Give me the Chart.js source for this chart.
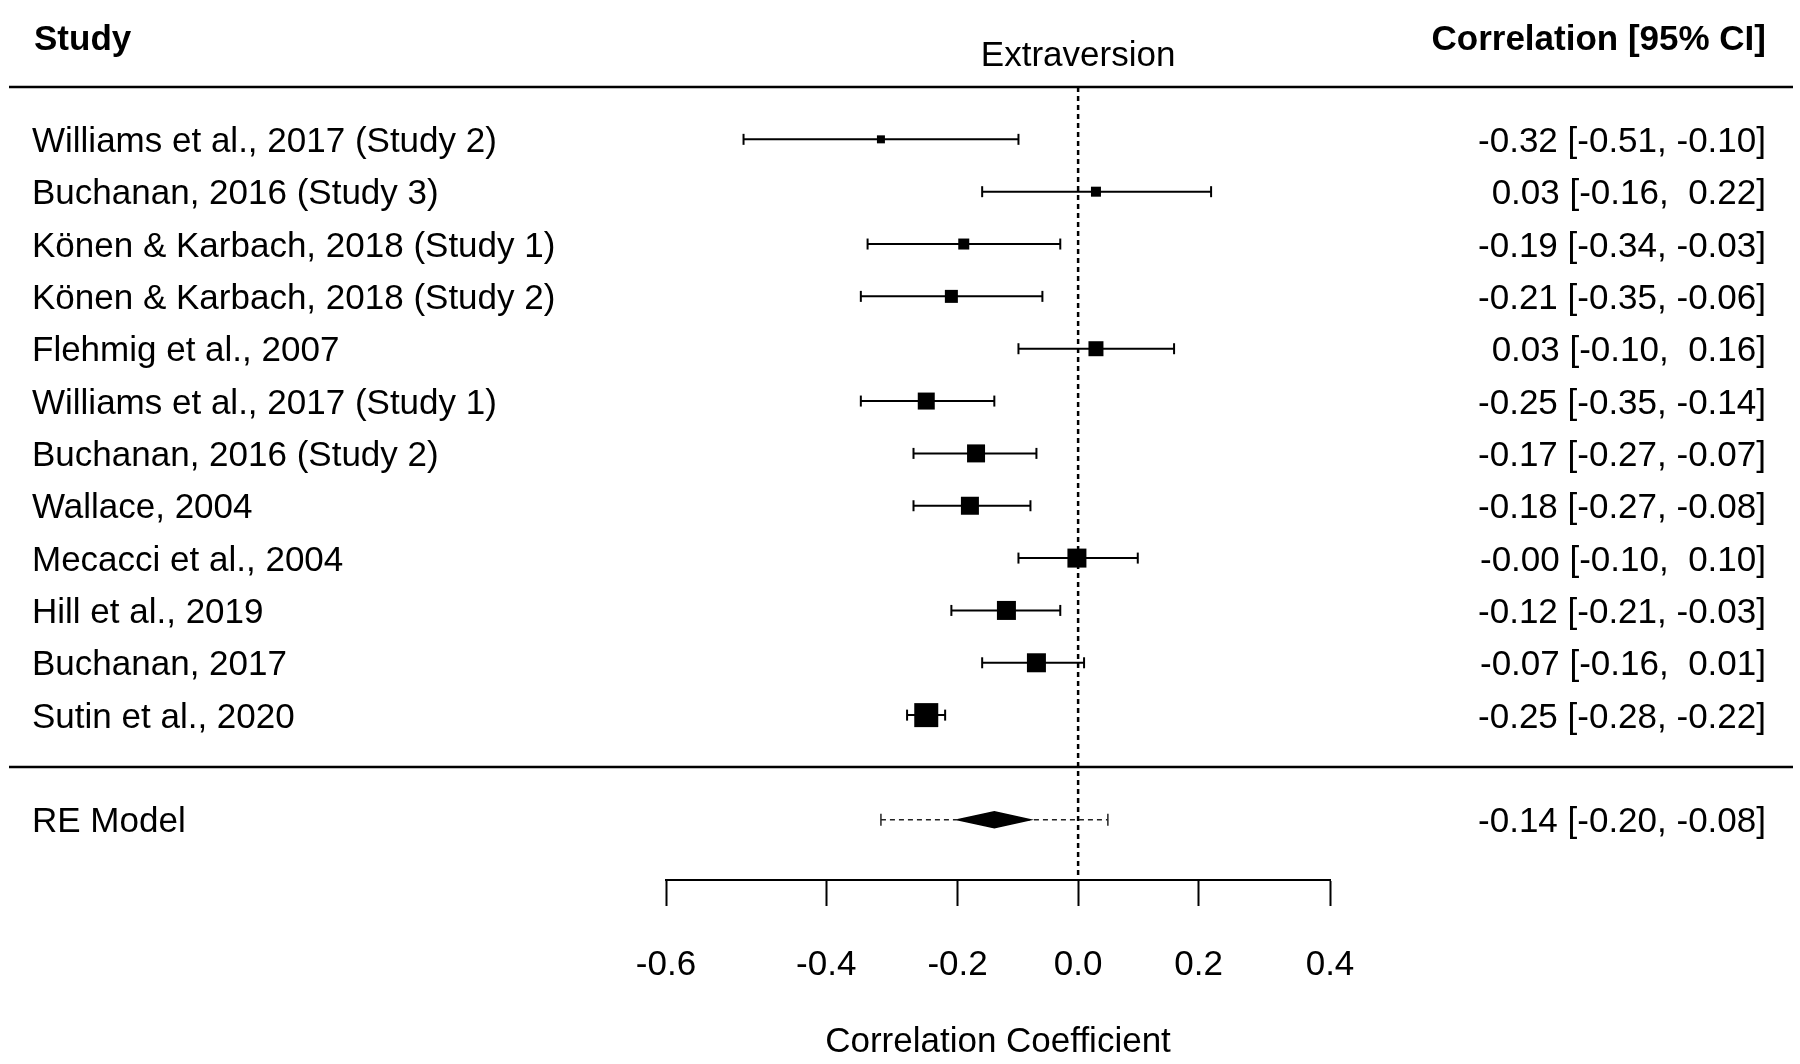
<!DOCTYPE html>
<html>
<head>
<meta charset="utf-8">
<script src="https://cdn.jsdelivr.net/npm/chart.js@4.4.1/dist/chart.umd.min.js"></script>
<style>
  html, body { margin: 0; padding: 0; background: #fff; }
  canvas { display: block; }
</style>
</head>
<body>
<canvas id="forest" width="1800" height="1064"></canvas>
<script>
const studies = [
  "Williams et al., 2017 (Study 2)",
  "Buchanan, 2016 (Study 3)",
  "Könen & Karbach, 2018 (Study 1)",
  "Könen & Karbach, 2018 (Study 2)",
  "Flehmig et al., 2007",
  "Williams et al., 2017 (Study 1)",
  "Buchanan, 2016 (Study 2)",
  "Wallace, 2004",
  "Mecacci et al., 2004",
  "Hill et al., 2019",
  "Buchanan, 2017",
  "Sutin et al., 2020"
];
const estimates = [-0.32, 0.03, -0.19, -0.21, 0.03, -0.25, -0.17, -0.18, -0.002, -0.12, -0.07, -0.25];
const ciLower   = [-0.51, -0.16, -0.34, -0.35, -0.10, -0.35, -0.27, -0.27, -0.10, -0.21, -0.16, -0.28];
const ciUpper   = [-0.10, 0.22, -0.03, -0.06, 0.16, -0.14, -0.07, -0.08, 0.10, -0.03, 0.01, -0.22];
// relative weights (%)
const weights   = [4.0, 5.0, 5.5, 6.5, 7.5, 8.5, 9.0, 9.0, 9.5, 9.5, 9.5, 12.0];

const summaryLabel = "RE Model";
const summary = [-0.14, -0.20, -0.08];    // estimate, lower, upper
const predInterval = [-0.32, 0.05];

const tickValues = [-0.6, -0.4, -0.2, 0.0, 0.2, 0.4];
const tickLabels = ["-0.6", "-0.4", "-0.2", "0.0", "0.2", "0.4"];

const FONT = '"Liberation Sans", Arial, sans-serif';
const ROW_PX = 52.36;
const TEXT_DY = 3;
const z = (r) => Math.atanh(r);
const summaryRow = studies.length + 2;

// box side in px: linear in weight, 8px for the smallest and 24px for the largest
const wMin = Math.min(...weights), wMax = Math.max(...weights);
const boxRadius = weights.map(w => (8 + (w - wMin) / (wMax - wMin) * 16) / Math.SQRT2);

function fmt(v, pad) {
  const s = v.toFixed(2);
  return (pad && !s.startsWith("-")) ? " " + s : s;
}

// whiskers, one per study
const whiskers = studies.map((s, i) => ({
  type: "line",
  data: [{ x: z(ciLower[i]), y: i + 1 }, { x: z(ciUpper[i]), y: i + 1 }],
  borderColor: "#000",
  borderWidth: 2,
  pointStyle: "line",
  rotation: 90,
  pointRadius: 5.5,
  pointBorderWidth: 2,
  pointBorderColor: "#000",
  fill: false
}));

const dh = 8 / ROW_PX;

const datasets = [
  {
    type: "scatter",
    data: estimates.map((e, i) => ({ x: z(e), y: i + 1 })),
    pointStyle: "rect",
    pointRadius: boxRadius,
    backgroundColor: "#000",
    pointBorderWidth: 0,
    borderWidth: 0
  },
  {
    type: "line",
    data: [
      { x: z(summary[1]), y: summaryRow },
      { x: z(summary[0]), y: summaryRow - dh },
      { x: z(summary[2]), y: summaryRow },
      { x: z(summary[0]), y: summaryRow + dh },
      { x: z(summary[1]), y: summaryRow }
    ],
    borderColor: "#000",
    backgroundColor: "#000",
    borderWidth: 1.5,
    pointRadius: 0,
    fill: "shape"
  },
  ...whiskers,
  {
    type: "line",
    data: [{ x: z(predInterval[0]), y: summaryRow }, { x: z(predInterval[1]), y: summaryRow }],
    borderColor: "#222",
    borderWidth: 1.5,
    borderDash: [5, 4],
    pointStyle: "line",
    rotation: 90,
    pointRadius: 6,
    pointBorderWidth: 1.5,
    pointBorderColor: "#222",
    fill: false
  },
  {
    type: "line",
    data: [{ x: 0, y: 0 }, { x: 0, y: 15.15 }],
    borderColor: "#000",
    borderWidth: 2.5,
    borderDash: [5, 4],
    pointRadius: 0,
    fill: false
  }
];

// labels, column texts and separator lines
const forestText = {
  id: "forestText",
  afterDraw(chart) {
    const { ctx, scales: { x, y } } = chart;
    const rowY = (v) => y.getPixelForValue(v) + TEXT_DY;
    ctx.save();
    ctx.fillStyle = "#000";
    ctx.textBaseline = "middle";

    ctx.font = "bold 35px " + FONT;
    ctx.textAlign = "left";
    ctx.fillText("Study", 34, rowY(-0.95));
    ctx.textAlign = "right";
    ctx.fillText("Correlation [95% CI]", 1766, rowY(-0.95));

    ctx.font = "35px " + FONT;
    ctx.textAlign = "center";
    ctx.fillText("Extraversion", x.getPixelForValue(0), rowY(-0.64));

    studies.forEach((name, i) => {
      const py = rowY(i + 1);
      ctx.textAlign = "left";
      ctx.fillText(name, 32, py);
      ctx.textAlign = "right";
      ctx.fillText(fmt(estimates[i]) + " [" + fmt(ciLower[i], true) + ", " + fmt(ciUpper[i], true) + "]", 1766, py);
    });

    const ps = rowY(summaryRow);
    ctx.textAlign = "left";
    ctx.fillText(summaryLabel, 32, ps);
    ctx.textAlign = "right";
    ctx.fillText(fmt(summary[0]) + " [" + fmt(summary[1], true) + ", " + fmt(summary[2], true) + "]", 1766, ps);

    ctx.strokeStyle = "#000";
    ctx.lineWidth = 2.5;
    [0, studies.length + 1].forEach(v => {
      const py = Math.round(y.getPixelForValue(v));
      ctx.beginPath();
      ctx.moveTo(9, py);
      ctx.lineTo(1793, py);
      ctx.stroke();
    });
    ctx.restore();
  }
};

new Chart(document.getElementById("forest"), {
  type: "scatter",
  data: { datasets },
  options: {
    responsive: false,
    animation: false,
    devicePixelRatio: 1,
    events: [],
    layout: { padding: { left: 666, right: 470, top: 87, bottom: 0 } },
    plugins: { legend: { display: false }, tooltip: { enabled: false } },
    scales: {
      x: {
        type: "linear",
        min: z(tickValues[0]),
        max: z(tickValues[tickValues.length - 1]),
        afterBuildTicks: (scale) => {
          scale.ticks = tickValues.map(v => ({ value: z(v) }));
        },
        afterFit: (scale) => {
          scale.paddingLeft = 0;
          scale.paddingRight = 0;
        },
        ticks: {
          autoSkip: false,
          maxRotation: 0,
          minRotation: 0,
          padding: 38,
          color: "#000",
          font: { family: FONT, size: 35 },
          callback: (value, index) => tickLabels[index]
        },
        grid: {
          drawOnChartArea: false,
          drawTicks: true,
          tickLength: 26,
          tickWidth: 2,
          tickColor: "#000"
        },
        border: { display: true, color: "#000", width: 2 },
        title: {
          display: true,
          text: "Correlation Coefficient",
          color: "#000",
          font: { family: FONT, size: 35, lineHeight: 1 },
          padding: { top: 0.5, bottom: 4.5 }
        }
      },
      y: {
        type: "linear",
        display: false,
        reverse: true,
        min: 0,
        max: 15.15
      }
    }
  },
  plugins: [forestText]
});
</script>
</body>
</html>
